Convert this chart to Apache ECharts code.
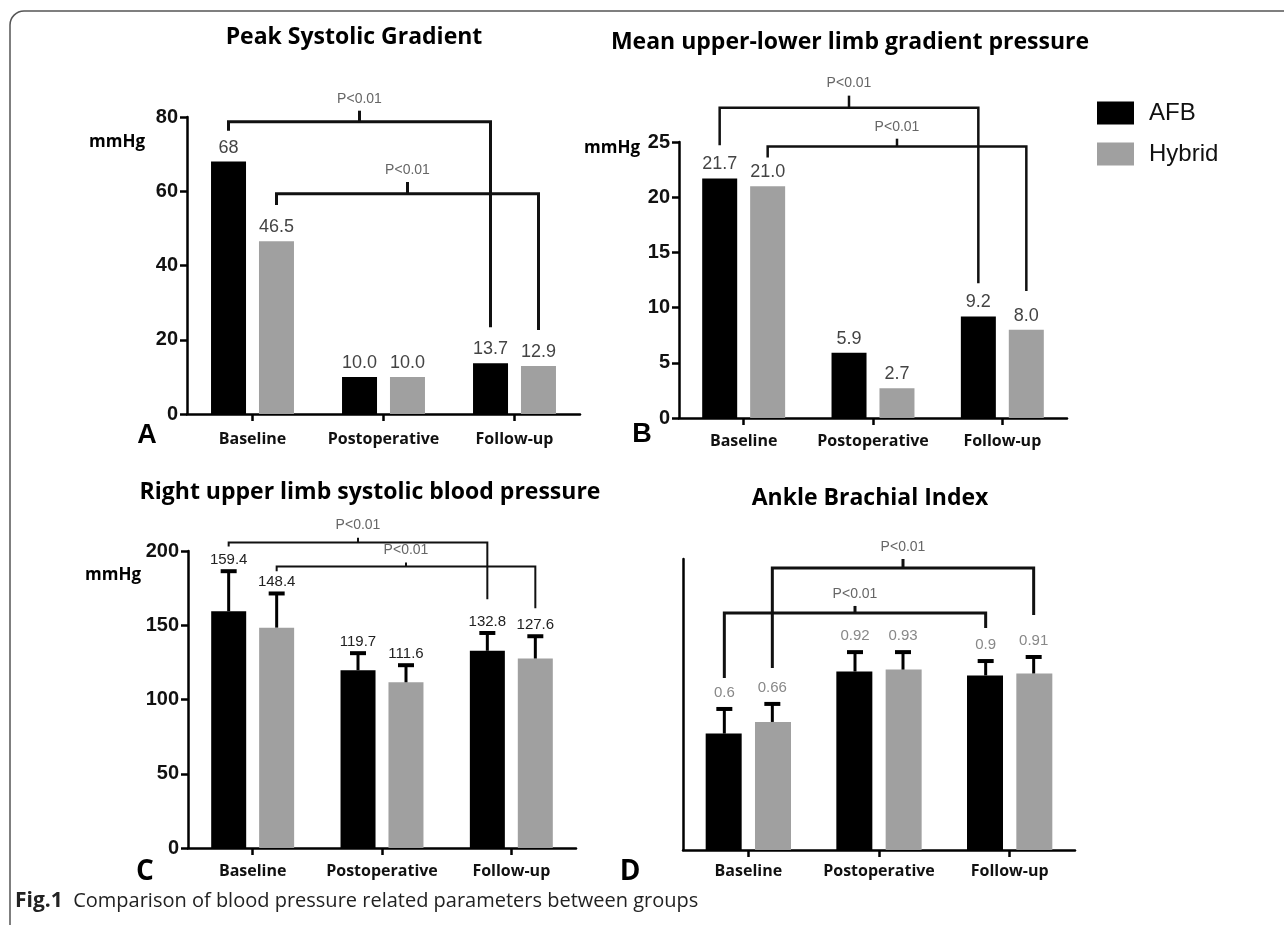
<!DOCTYPE html>
<html>
<head>
<meta charset="utf-8">
<script src="https://cdn.jsdelivr.net/npm/echarts@6/dist/echarts.min.js"></script>
<style>
html,body{margin:0;padding:0;background:#fff;}
#chart{width:1284px;height:925px;}
</style>
</head>
<body>
<div id="chart"></div>
<script>
// ---------- data ----------
const categories = ['Baseline', 'Postoperative', 'Follow-up'];
const seriesNames = ['AFB', 'Hybrid'];

// A: Peak Systolic Gradient (mmHg)
const afbA = [68, 10.0, 13.7];
const hybA = [46.5, 10.0, 12.9];
const labelsAfbA = ['68', '10.0', '13.7'];
const labelsHybA = ['46.5', '10.0', '12.9'];
const axisA = [0, 80, 20];

// B: Mean upper-lower limb gradient pressure (mmHg)
const afbB = [21.7, 5.9, 9.2];
const hybB = [21.0, 2.7, 8.0];
const axisB = [0, 25, 5];

// C: Right upper limb systolic blood pressure (mmHg)
const afbC = [159.4, 119.7, 132.8];
const hybC = [148.4, 111.6, 127.6];
const errAfbC = [27, 11.5, 12];
const errHybC = [23, 11.5, 15];
const axisC = [0, 200, 50];

// D: Ankle Brachial Index
const afbD = [0.6, 0.92, 0.9];
const hybD = [0.66, 0.93, 0.91];
const errAfbD = [0.127, 0.10, 0.074];
const errHybD = [0.093, 0.09, 0.085];
const axisD = [0, 1.5, 0.5];

// significance brackets (levels in data units)
const bracketsA = [
  { from: [0, 'AFB'], to: [2, 'AFB'], bar: 78.7, leftEnd: 76.3, rightEnd: 23.4, tick: 81.7, text: 'P<0.01' },
  { from: [0, 'Hybrid'], to: [2, 'Hybrid'], bar: 59.3, leftEnd: 56.3, rightEnd: 22.6, tick: 62.5, text: 'P<0.01' }
];
const bracketsB = [
  { from: [0, 'AFB'], to: [2, 'AFB'], bar: 28.1, leftEnd: 24.7, rightEnd: 12.2, tick: 29.2, text: 'P<0.01' },
  { from: [0, 'Hybrid'], to: [2, 'Hybrid'], bar: 24.6, leftEnd: 23.6, rightEnd: 11.5, tick: 25.3, text: 'P<0.01' }
];
const bracketsC = [
  { from: [0, 'AFB'], to: [2, 'AFB'], bar: 205.8, leftEnd: 203, rightEnd: 167.5, tick: 209, text: 'P<0.01' },
  { from: [0, 'Hybrid'], to: [2, 'Hybrid'], bar: 189.6, leftEnd: 186.3, rightEnd: 161.4, tick: 192.3, text: 'P<0.01' }
];
const bracketsD = [
  { from: [0, 'AFB'], to: [2, 'AFB'], bar: 1.222, leftEnd: 0.887, rightEnd: 1.144, tick: 1.258, text: 'P<0.01' },
  { from: [0, 'Hybrid'], to: [2, 'Hybrid'], bar: 1.454, leftEnd: 0.938, rightEnd: 1.211, tick: 1.5, text: 'P<0.01' }
];

// ---------- styles ----------
const BLACK = '#000000';
const GRAY = '#a0a0a0';
const OFF = 24;          // half distance between paired bar centres (px)
const BAR_W = 35;
const BAR_GAP = '37%';
const TITLE_FONT = 'bold 23px "Open Sans"';

const grids = [
  { left: 187, top: 117, width: 393, height: 297 },
  { left: 679, top: 142, width: 388, height: 276 },
  { left: 188, top: 551, width: 388, height: 297 },
  { left: 683, top: 559, width: 392, height: 291 }
];
const xLabelMargin = [17, 15, 15, 13];
const axes = [axisA, axisB, axisC, axisD];

const sideOf = s => (s === 'AFB' ? -1 : 1);

function bracketSeries(idx, list, lw) {
  return {
    type: 'custom', xAxisIndex: idx, yAxisIndex: idx, silent: true, z: 5, clip: false,
    encode: { x: 0, y: 4 },
    data: list.map(b => [b.from[0], sideOf(b.from[1]), b.to[0], sideOf(b.to[1]), b.bar, b.leftEnd, b.rightEnd, b.tick]),
    renderItem: function (params, api) {
      const lc = api.value(0), ls = api.value(1), rc = api.value(2), rs = api.value(3);
      const top = api.value(4), le = api.value(5), re = api.value(6), tk = api.value(7);
      const pTop = api.coord([lc, top]);
      const xL = pTop[0] + ls * OFF;
      const xR = api.coord([rc, top])[0] + rs * OFF;
      const yT = pTop[1];
      const yLE = api.coord([lc, le])[1];
      const yRE = api.coord([rc, re])[1];
      const yTk = api.coord([lc, tk])[1];
      const xM = (xL + xR) / 2;
      const st = { stroke: '#111', lineWidth: lw, fill: null };
      return {
        type: 'group',
        children: [
          { type: 'polyline', shape: { points: [[xL, yLE], [xL, yT], [xR, yT], [xR, yRE]] }, style: st },
          { type: 'line', shape: { x1: xM, y1: yT, x2: xM, y2: yTk }, style: st },
          { type: 'text', style: { text: list[params.dataIndex].text, x: xM, y: yTk - 5, textAlign: 'center', textVerticalAlign: 'bottom', font: '14px "Liberation Sans"', fill: '#666' } }
        ]
      };
    }
  };
}

function errSeries(idx, side, vals, errs, fmt, font, color, gap) {
  return {
    type: 'custom', xAxisIndex: idx, yAxisIndex: idx, silent: true, z: 4, clip: false,
    encode: { x: 0, y: 1 },
    data: vals.map((v, i) => [i, v, errs[i]]),
    renderItem: function (params, api) {
      const c = api.value(0), v = api.value(1), e = api.value(2);
      const p0 = api.coord([c, v]);
      const p1 = api.coord([c, v + e]);
      const x = p0[0] + side * OFF;
      return {
        type: 'group',
        children: [
          { type: 'line', shape: { x1: x, y1: p0[1], x2: x, y2: p1[1] }, style: { stroke: '#000', lineWidth: 3 } },
          { type: 'line', shape: { x1: x - 8, y1: p1[1], x2: x + 8, y2: p1[1] }, style: { stroke: '#000', lineWidth: 4 } },
          { type: 'text', style: { text: fmt(v), x: x, y: p1[1] - gap, textAlign: 'center', textVerticalAlign: 'bottom', font: font, fill: color } }
        ]
      };
    }
  };
}

function barSeries(idx, name, data, color, labelCfg, bw) {
  return {
    type: 'bar', name: name, xAxisIndex: idx, yAxisIndex: idx,
    data: data, barWidth: bw || BAR_W, barGap: BAR_GAP,
    itemStyle: { color: color },
    label: labelCfg || { show: false },
    z: 2
  };
}

const labelAB = (texts) => ({
  show: true, position: 'top', distance: 5,
  color: '#444', fontSize: 18, fontFamily: 'Liberation Sans',
  formatter: texts ? (p => texts[p.dataIndex]) : (p => p.value.toFixed(1))
});

const option = {
  animation: false,
  backgroundColor: '#fff',
  legend: {
    data: seriesNames,
    orient: 'vertical',
    left: 1092, top: 96,
    itemWidth: 37, itemHeight: 23, itemGap: 17,
    icon: 'rect',
    textStyle: { fontSize: 24, fontFamily: 'Liberation Sans', color: '#111', padding: [0, 0, 0, 10] }
  },
  grid: grids,
  xAxis: grids.map((g, i) => ({
    type: 'category', gridIndex: i, data: categories,
    axisLine: { lineStyle: { color: '#000', width: 2.5 } },
    axisTick: { show: true, alignWithLabel: true, length: 7, lineStyle: { color: '#000', width: 2.5 } },
    axisLabel: { interval: 0, margin: xLabelMargin[i], color: '#111', fontSize: 16, fontWeight: 'bold', fontFamily: 'Open Sans' },
    splitLine: { show: false }
  })),
  yAxis: grids.map((g, i) => ({
    type: 'value', gridIndex: i,
    min: axes[i][0], max: axes[i][1], interval: axes[i][2],
    axisLine: { show: true, lineStyle: { color: '#000', width: 2.5 } },
    axisTick: { show: i !== 3, length: 7, lineStyle: { color: '#000', width: 2.5 } },
    axisLabel: { show: i !== 3, margin: 9, color: '#111', fontSize: 20, fontWeight: 'bold', fontFamily: 'Liberation Sans' },
    splitLine: { show: false }
  })),
  series: [
    barSeries(0, 'AFB', afbA, BLACK, labelAB(labelsAfbA)),
    barSeries(0, 'Hybrid', hybA, GRAY, labelAB(labelsHybA)),
    bracketSeries(0, bracketsA, 3),

    barSeries(1, 'AFB', afbB, BLACK, labelAB(null)),
    barSeries(1, 'Hybrid', hybB, GRAY, labelAB(null)),
    bracketSeries(1, bracketsB, 2.5),

    barSeries(2, 'AFB', afbC, BLACK),
    barSeries(2, 'Hybrid', hybC, GRAY),
    errSeries(2, -1, afbC, errAfbC, v => v.toFixed(1), '15px "Liberation Sans"', '#222', 4),
    errSeries(2, 1, hybC, errHybC, v => v.toFixed(1), '15px "Liberation Sans"', '#222', 4),
    bracketSeries(2, bracketsC, 2),

    barSeries(3, 'AFB', afbD, BLACK, null, 36),
    barSeries(3, 'Hybrid', hybD, GRAY, null, 36),
    errSeries(3, -1, afbD, errAfbD, v => String(v), '15px "Liberation Sans"', '#888', 9),
    errSeries(3, 1, hybD, errHybD, v => String(v), '15px "Liberation Sans"', '#888', 9),
    bracketSeries(3, bracketsD, 3)
  ],
  graphic: [
    { type: 'rect', silent: true, shape: { x: 10, y: 11, width: 1400, height: 1100, r: 14 }, style: { fill: null, stroke: '#555', lineWidth: 1.5 } },
    { type: 'text', style: { text: 'Peak Systolic Gradient', x: 354, y: 37, textAlign: 'center', textVerticalAlign: 'middle', font: TITLE_FONT, fill: '#000' } },
    { type: 'text', style: { text: 'Mean upper-lower limb gradient pressure', x: 850, y: 42, textAlign: 'center', textVerticalAlign: 'middle', font: TITLE_FONT, fill: '#000' } },
    { type: 'text', style: { text: 'Right upper limb systolic blood pressure', x: 370, y: 492, textAlign: 'center', textVerticalAlign: 'middle', font: TITLE_FONT, fill: '#000' } },
    { type: 'text', style: { text: 'Ankle Brachial Index', x: 870, y: 498, textAlign: 'center', textVerticalAlign: 'middle', font: TITLE_FONT, fill: '#000' } },
    { type: 'text', style: { text: 'mmHg', x: 117, y: 142, textAlign: 'center', textVerticalAlign: 'middle', font: 'bold 17px "Open Sans"', fill: '#000' } },
    { type: 'text', style: { text: 'mmHg', x: 612, y: 148, textAlign: 'center', textVerticalAlign: 'middle', font: 'bold 17px "Open Sans"', fill: '#000' } },
    { type: 'text', style: { text: 'mmHg', x: 113, y: 575, textAlign: 'center', textVerticalAlign: 'middle', font: 'bold 17px "Open Sans"', fill: '#000' } },
    { type: 'text', style: { text: 'A', x: 147, y: 436, textAlign: 'center', textVerticalAlign: 'middle', font: 'bold 27px "Liberation Sans"', fill: '#000' } },
    { type: 'text', style: { text: 'B', x: 642, y: 435, textAlign: 'center', textVerticalAlign: 'middle', font: 'bold 27px "Liberation Sans"', fill: '#000' } },
    { type: 'text', style: { text: 'C', x: 145, y: 872, textAlign: 'center', textVerticalAlign: 'middle', font: 'bold 28px "Open Sans"', fill: '#000' } },
    { type: 'text', style: { text: 'D', x: 630, y: 872, textAlign: 'center', textVerticalAlign: 'middle', font: 'bold 28px "Open Sans"', fill: '#000' } },
    { type: 'text', style: {
        text: '{b|Fig.1}  Comparison of blood pressure related parameters between groups',
        x: 15, y: 901, textAlign: 'left', textVerticalAlign: 'middle',
        font: '20px "Open Sans"', fill: '#222',
        rich: { b: { fontWeight: 'bold', fontSize: 21, fontFamily: 'Open Sans', fill: '#222' } }
    } }
  ]
};

const chart = echarts.init(document.getElementById('chart'), null, { renderer: 'canvas' });
chart.setOption(option);
</script>
</body>
</html>
